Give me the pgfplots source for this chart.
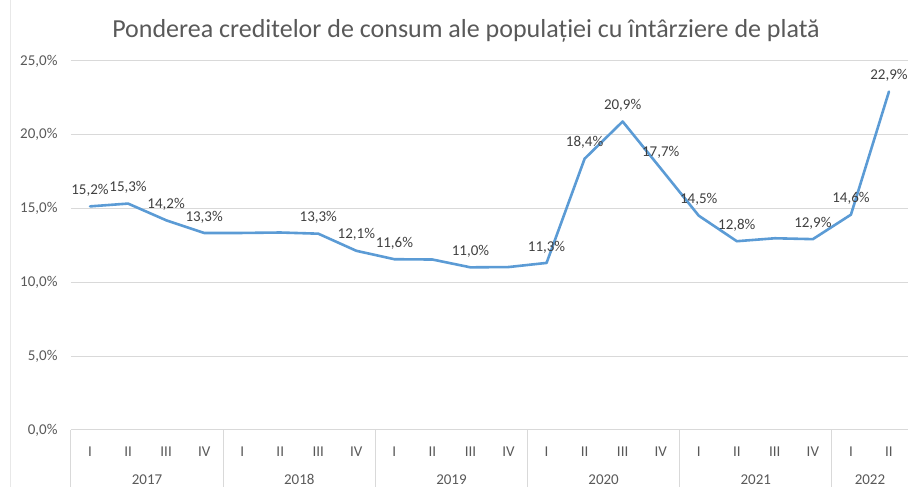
\documentclass[border=0pt]{standalone}
\usepackage{pgfplots}
\pgfplotsset{compat=1.18}
\usepackage{pgfplotstable}
\usepackage{fontspec}
\setmainfont{Carlito}
\definecolor{linec}{HTML}{5B9BD5}
\definecolor{gridc}{HTML}{D9D9D9}
\definecolor{tickc}{HTML}{595959}
\definecolor{labc}{HTML}{404040}

\pgfplotstableread{
x y lab
0 15.15 15,2\%
1 15.34 15,3\%
2 14.21 14,2\%
3 13.35 13,3\%
4 13.35 {}
5 13.38 {}
6 13.30 13,3\%
7 12.14 12,1\%
8 11.57 11,6\%
9 11.55 {}
10 11.02 11,0\%
11 11.04 {}
12 11.32 11,3\%
13 18.38 18,4\%
14 20.90 20,9\%
15 17.72 17,7\%
16 14.52 14,5\%
17 12.79 12,8\%
18 12.99 {}
19 12.93 12,9\%
20 14.59 14,6\%
21 22.93 22,9\%
}\data

\begin{document}
\begin{tikzpicture}
\path[use as bounding box] (-71pt,-57pt) rectangle (837pt,430pt);
\begin{axis}[
  scale only axis, width=837pt, height=369pt, at={(0,0)}, anchor=south west,
  xmin=-0.5, xmax=21.5, ymin=0, ymax=25,
  axis line style={draw=none},
  tick style={draw=none},
  ymajorgrids, grid style={gridc, line width=1pt},
  ytick={0,5,10,15,20,25},
  yticklabels={{0,0\%},{5,0\%},{10,0\%},{15,0\%},{20,0\%},{25,0\%}},
  yticklabel style={anchor=east, xshift=-10pt},
  xtick={0,...,21},
  xticklabels={I,II,III,IV,I,II,III,IV,I,II,III,IV,I,II,III,IV,I,II,III,IV,I,II},
  xticklabel style={anchor=base, yshift=-27pt},
  ticklabel style={font=\fontsize{15}{17}\selectfont, text=tickc},
  clip=false,
]
\addplot[linec, line width=2.6pt, line join=round, line cap=round,
  nodes near coords, point meta=explicit symbolic,
  nodes near coords style={anchor=center, yshift=16pt, font=\fontsize{15}{17}\selectfont, text=labc}]
  table[x=x, y=y, meta=lab] {\data};
\pgfplotsinvokeforeach{-0.5,3.5,7.5,11.5,15.5,19.5}{
  \draw[gridc, line width=1pt] (axis cs:#1,0) -- ++(0pt,-57pt);
}
\tikzset{yr/.style={anchor=base, inner sep=0pt, font=\fontsize{15}{17}\selectfont, text=tickc, yshift=-54.5pt}}
\node[yr] at (axis cs:1.5,0) {2017};
\node[yr] at (axis cs:5.5,0) {2018};
\node[yr] at (axis cs:9.5,0) {2019};
\node[yr] at (axis cs:13.5,0) {2020};
\node[yr] at (axis cs:17.5,0) {2021};
\node[yr] at (axis cs:20.5,0) {2022};
\end{axis}
\draw[gridc!60, line width=0.8pt] (-61pt,-57pt) -- (-61pt,430pt);
\node[anchor=base, font=\fontsize{26}{30}\selectfont, text=tickc] at (395pt,392.7pt) {Ponderea creditelor de consum ale populației cu întârziere de plată};
\end{tikzpicture}
\end{document}
